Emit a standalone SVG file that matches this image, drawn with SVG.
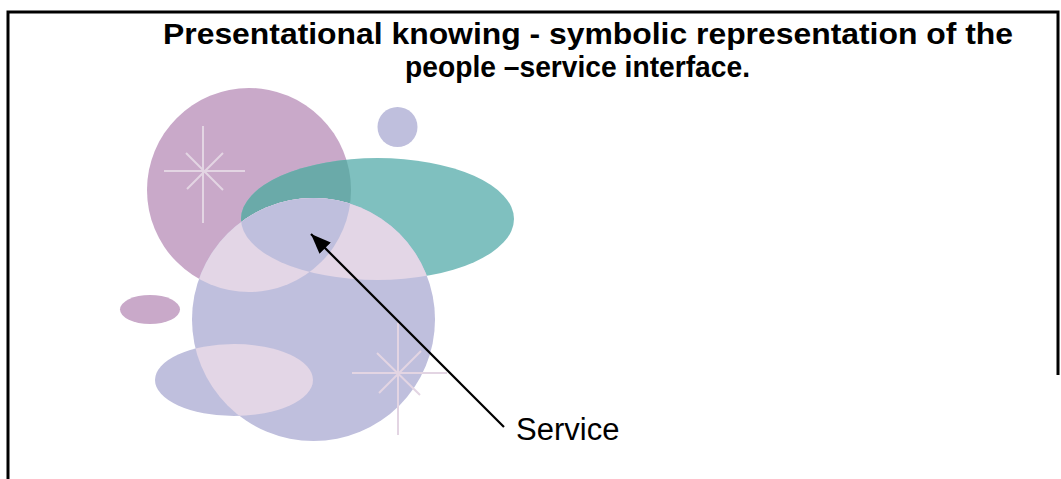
<svg xmlns="http://www.w3.org/2000/svg" width="1061" height="479" viewBox="0 0 1061 479">
  <style>
    .title { font-family: "Liberation Sans", Arial, sans-serif; font-weight: bold; font-size: 30px; fill: #000; }
    .label { font-family: "Liberation Sans", Arial, sans-serif; font-size: 31px; fill: #000; }
    .spark { stroke: #E3D5E3; stroke-width: 2; fill: none; }
    .frame { stroke: #000; stroke-width: 3; fill: none; }
    .conn { stroke: #000; stroke-width: 2.2; fill: none; }
  </style>
  <defs>
    <clipPath id="clipA"><circle cx="249" cy="190" r="102"/></clipPath>
    <clipPath id="clipT"><ellipse cx="377.5" cy="219" rx="136.5" ry="61"/></clipPath>
    <clipPath id="clipL"><circle cx="313.5" cy="319.5" r="121.5"/></clipPath>
    <marker id="arrow" viewBox="0 0 20 16" refX="20" refY="8" markerWidth="20" markerHeight="16" markerUnits="userSpaceOnUse" orient="auto">
      <path d="M0,0 L20,8 L0,16 z" fill="#000"/>
    </marker>
  </defs>
  <rect width="1061" height="479" fill="#fff"/>
  <g id="frame">
    <path class="frame" d="M8,479 L8,12 L1058,12 L1058,375"/>
  </g>
  <g id="title">
    <text class="title" x="163" y="44" textLength="850" lengthAdjust="spacingAndGlyphs">Presentational knowing - symbolic representation of the</text>
    <text class="title" x="405" y="77" textLength="345" lengthAdjust="spacingAndGlyphs">people –service interface.</text>
  </g>
  <g id="shapes">
    <circle cx="397.5" cy="127" r="20" fill="#BFBFDD"/>
    <ellipse cx="150" cy="309.5" rx="30" ry="14.5" fill="#C9A9C9"/>
    <circle cx="249" cy="190" r="102" fill="#C9A9C9"/>
    <ellipse cx="377.5" cy="219" rx="136.5" ry="61" fill="#7FC0BF"/>
    <ellipse cx="377.5" cy="219" rx="136.5" ry="61" fill="#6AAAA9" clip-path="url(#clipA)"/>
    <g id="sparkle1">
      <path class="spark" d="M203,126 L203,223 M164,171 L245,171 M186,153 L223,190 M223,153 L187,189"/>
    </g>
    <circle cx="313.5" cy="319.5" r="121.5" fill="#BFBFDD"/>
    <circle cx="249" cy="190" r="102" fill="#E3D6E6" clip-path="url(#clipL)"/>
    <ellipse cx="377.5" cy="219" rx="136.5" ry="61" fill="#E3D6E6" clip-path="url(#clipL)"/>
    <g clip-path="url(#clipL)">
      <circle cx="249" cy="190" r="102" fill="#BFBFDD" clip-path="url(#clipT)"/>
    </g>
    <ellipse cx="234" cy="380" rx="79" ry="36" fill="#BFBFDD"/>
    <ellipse cx="234" cy="380" rx="79" ry="36" fill="#E3D6E6" clip-path="url(#clipL)"/>
    <g id="sparkle2">
      <path class="spark" d="M398,323 L398,435 M352,373 L447,373 M377,353 L420,395 M421,351 L379,393"/>
    </g>
  </g>
  <g id="connectors">
    <line class="conn" x1="504" y1="427" x2="311" y2="234" marker-end="url(#arrow)"/>
  </g>
  <g id="service">
    <text class="label" x="516" y="440">Service</text>
  </g>
</svg>
